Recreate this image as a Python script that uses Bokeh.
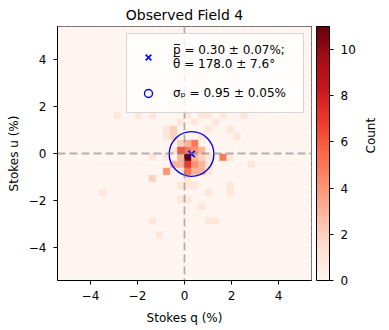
import numpy as np
from math import pi, cos, sin, radians
from bokeh.plotting import figure
from bokeh.models import (ColumnDataSource, LinearColorMapper, ColorBar, FixedTicker,
                          Span, Legend, LegendItem, Range1d, LinearAxis)
from bokeh.palettes import Reds256
from bokeh.embed import file_html
from bokeh.resources import INLINE

# ---------------- data ----------------
axis_lo, axis_hi, n_bins = -5.4, 5.4, 36
# non-empty histogram cells (bin centres in %, counts)
cell_q = [0.15, 0.15, 0.15, -0.15, 0.15, 0.45, 0.15, -0.15, 0.45, 0.75, 0.45, 0.75, 1.05, 1.65, 1.95,
          -0.15, -0.15, -0.45, 0.45, 0.75, 1.05, 0.45, 0.75, 1.05, -0.75, -0.15, -0.75, -1.35, -0.45,
          -1.35, -0.15, 0.15, 0.45, 0.15, 1.05, 1.95, 1.95, 0.15, -0.15, 0.75, 1.05, 1.35, -1.35,
          -1.05, -3.45, 2.85,
          -0.45, -0.75, -0.45, -0.75, 0.75, 1.05, 1.95, 0.45, 1.35, -0.15, 0.15, 0.75, 1.05, 1.65,
          2.25, 2.55, -2.85, -1.95, -1.35, -0.45, 2.85, 2.25, 0.15, 0.45]
cell_u = [-0.15, -0.45, -0.75, 0.15, 0.15, 0.45, 0.45, 0.45, 0.15, 0.15, -0.15, -0.15, -0.15, -0.15, -0.15,
          -0.15, -0.45, -0.45, -0.45, -0.45, -0.45, -0.75, -0.75, -0.75, -0.75, -0.75, -0.15, -0.15, 0.15,
          -1.05, -1.35, -1.35, -1.35, -1.05, -1.65, -1.35, -1.65, -1.95, -1.95, -2.25, -2.85, -2.85, -2.85,
          -3.45, -1.65, -0.45,
          0.75, 0.75, 1.05, 1.05, 0.75, 1.05, 1.05, 1.35, 1.35, 1.35, 1.65, 1.65, 1.65, 1.65,
          0.75, 1.65, 1.65, 1.65, 1.65, 1.95, 1.95, 3.15, 3.45, 2.85]
cell_count = [11, 7, 5, 6, 5, 5, 3, 2, 4, 3, 3, 2, 1, 5, 1,
              3, 3, 3, 4, 3, 1, 3, 3, 1, 4, 1, 1, 1, 1,
              2, 1, 1, 1, 1, 1, 1, 1, 1, 1, 1, 1, 1, 1,
              1, 1, 1,
              2, 1, 2, 1, 1, 1, 1, 1, 1, 1, 1, 1, 1, 1,
              1, 1, 1, 1, 1, 1, 1, 1, 1, 1]

p_mean, p_err = 0.30, 0.07
theta_mean, theta_err = 178.0, 7.6
sigma_p, sigma_err = 0.95, 0.05

axis_ticks = [-4, -2, 0, 2, 4]
cbar_ticks = [0, 2, 4, 6, 8, 10]
count_max = 11

title_text = "Observed Field 4"
x_label = "Stokes q (%)"
y_label = "Stokes u (%)"
cbar_label = "Count"

# ---------------- build grid ----------------
edges = np.linspace(axis_lo, axis_hi, n_bins + 1)
centres = (edges[:-1] + edges[1:]) / 2
bw = edges[1] - edges[0]
grid = np.zeros((n_bins, n_bins))
for q, u, c in zip(cell_q, cell_u, cell_count):
    i = int(np.argmin(np.abs(centres - q)))
    j = int(np.argmin(np.abs(centres - u)))
    grid[j, i] += c
QQ, UU = np.meshgrid(centres, centres)
src = ColumnDataSource(dict(q=QQ.ravel(), u=UU.ravel(), count=grid.ravel()))

palette = list(reversed(Reds256))
mapper = LinearColorMapper(palette=palette, low=0, high=count_max)

FONT = "DejaVu Sans"

p = figure(frame_width=254, frame_height=254,
           x_range=Range1d(axis_lo, axis_hi), y_range=Range1d(axis_lo, axis_hi),
           output_backend="svg", toolbar_location=None,
           min_border_left=57, min_border_right=76, min_border_bottom=48, min_border_top=26,
           background_fill_color="white", border_fill_color="white")

p.rect(x="q", y="u", width=bw, height=bw, source=src,
       fill_color={"field": "count", "transform": mapper},
       line_color={"field": "count", "transform": mapper}, line_width=0.6)

# reference lines
for dim in ("height", "width"):
    p.add_layout(Span(location=0, dimension=dim, line_color="gray", line_alpha=0.6,
                      line_dash="8 4", line_width=1.8))

# mean polarisation marker and sigma circle
q0 = p_mean * cos(radians(2 * theta_mean))
u0 = p_mean * sin(radians(2 * theta_mean))
r_x = p.scatter([q0], [u0], marker="x", size=9, line_color="blue", line_width=1.6)
r_c = p.circle(x=[q0], y=[u0], radius=sigma_p, fill_color=None, line_color="blue", line_width=1.4)

lab1 = f"p\u0305 = {p_mean:.2f} \u00b1 {p_err:.2f}%;\n\u03b8\u0305 = {theta_mean:.1f} \u00b1 {theta_err:.1f}\u00b0"
lab2 = f"\u03c3\u209a = {sigma_p:.2f} \u00b1 {sigma_err:.2f}%"
legend = Legend(items=[LegendItem(label=lab1, renderers=[r_x]),
                       LegendItem(label=lab2, renderers=[r_c])],
                location="top_right", margin=7, padding=9, spacing=12,
                glyph_width=24, label_standoff=13, label_width=121,
                label_text_font=FONT, label_text_font_size="12px",
                label_text_color="black",
                background_fill_color="white", background_fill_alpha=0.8,
                border_line_color="#cccccc", border_line_alpha=0.8)
p.add_layout(legend)

# axes
for ax in (p.xaxis[0], p.yaxis[0]):
    ax.ticker = FixedTicker(ticks=axis_ticks)
    ax.major_label_overrides = {t: str(t).replace("-", "\u2212") for t in axis_ticks}
    ax.major_tick_in = 0
    ax.major_tick_out = 4
    ax.minor_tick_line_color = None
    ax.major_label_text_font = FONT
    ax.major_label_text_font_size = "12px"
    ax.major_label_text_color = "black"
    ax.axis_label_text_font = FONT
    ax.axis_label_text_font_size = "12px"
    ax.axis_label_text_font_style = "normal"
    ax.axis_label_text_color = "black"
    ax.axis_line_color = "black"
    ax.major_tick_line_color = "black"
p.xaxis.major_label_standoff = 6
p.yaxis.major_label_standoff = 7
p.xaxis.axis_label_standoff = 8
p.yaxis.axis_label_standoff = 5
p.xaxis.axis_label = x_label
p.yaxis.axis_label = y_label
p.xgrid.grid_line_color = None
p.ygrid.grid_line_color = None
p.outline_line_color = "black"
p.outline_line_alpha = 1
p.outline_line_width = 1

p.title.text = title_text
p.title.align = "center"
p.title.text_font = FONT
p.title.text_font_size = "14px"
p.title.text_font_style = "normal"
p.title.text_color = "black"
p.title.standoff = 8

cb = ColorBar(color_mapper=mapper, ticker=FixedTicker(ticks=cbar_ticks), width=13,
              padding=0, margin=0, location=(5, 0), bar_line_color="black",
              major_tick_in=0, major_tick_out=4,
              major_tick_line_color="black", major_label_text_font=FONT,
              major_label_text_font_size="12px", major_label_text_color="black",
              label_standoff=7, background_fill_alpha=0, border_line_color=None)
p.add_layout(cb, "right")

cnt_ax = LinearAxis(axis_label=cbar_label, axis_label_orientation=pi / 2,
                    ticker=FixedTicker(ticks=[]), axis_line_color=None,
                    major_tick_line_color=None, minor_tick_line_color=None,
                    major_label_text_font_size="0px",
                    axis_label_text_font=FONT, axis_label_text_font_size="12px",
                    axis_label_text_font_style="normal", axis_label_text_color="black",
                    axis_label_standoff=12)
p.add_layout(cnt_ax, "right")

open("out.html", "w").write(file_html(p, INLINE))
